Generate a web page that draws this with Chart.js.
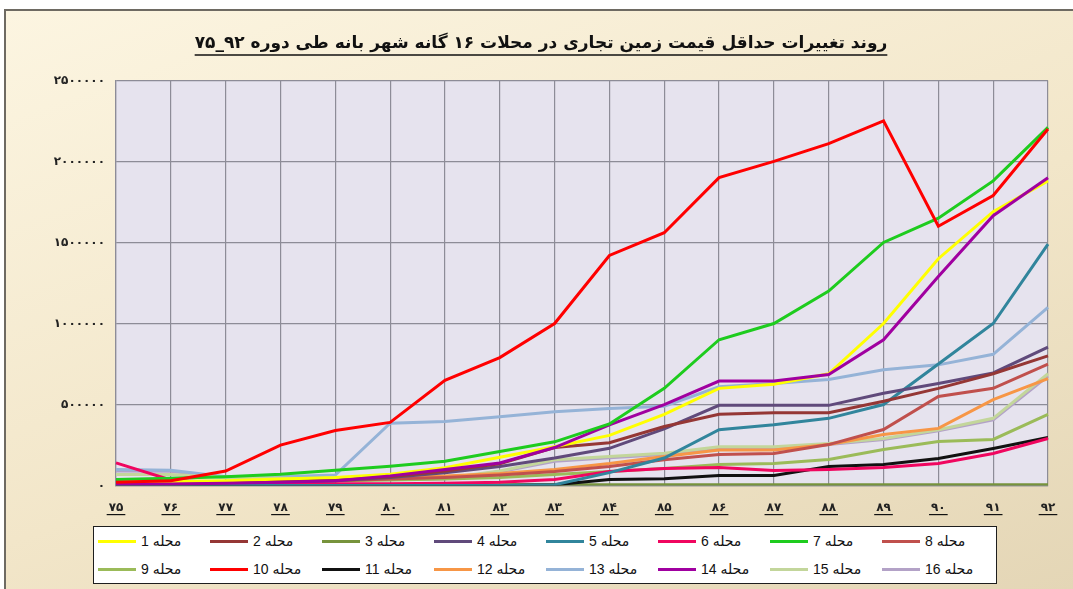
<!DOCTYPE html>
<html>
<head>
<meta charset="utf-8">
<script src="https://cdn.jsdelivr.net/npm/chart.js@4.4.1/dist/chart.umd.min.js"></script>
<style>
    body { margin: 0; background: #ffffff; }
    #quadro {
        position: absolute; left: 4px; top: 9px; width: 1069px; height: 580px;
        border-top: 2px solid #6e6a62; border-left: 2px solid #6e6a62;
        background: linear-gradient(160deg, #fcf5e1 0%, #f2e6c9 55%, #e4d6b6 100%);
    }
    #grafico { position: absolute; left: 0; top: 0; }
    #legenda {
        position: absolute; left: 93px; top: 526px; width: 904px; height: 58px;
        box-sizing: border-box; border: 1.5px solid #1e1e1e; background: #ffffff;
        display: grid; grid-template-columns: repeat(8, 112px); grid-template-rows: repeat(2, 1fr);
        padding-left: 4px;
        font-family: "Liberation Sans", "DejaVu Sans", sans-serif; font-size: 14px; color: #111;
    }
    .item { display: flex; align-items: center; }
    .linha { width: 38px; height: 3px; margin-right: 5px; }
</style>
</head>
<body>
<div id="quadro"></div>
<canvas id="grafico" width="1073" height="589" dir="rtl"></canvas>
<div id="legenda"></div>
<script>
const titulo = "روند تغییرات حداقل قیمت زمین تجاری در محلات ۱۶ گانه شهر بانه طی دوره ۹۲_۷۵";
const anos = ["۷۵", "۷۶", "۷۷", "۷۸", "۷۹", "۸۰", "۸۱", "۸۲", "۸۳", "۸۴", "۸۵", "۸۶", "۸۷", "۸۸", "۸۹", "۹۰", "۹۱", "۹۲"];
const rotulosY = ["۰", "۵۰۰۰۰۰", "۱۰۰۰۰۰۰", "۱۵۰۰۰۰۰", "۲۰۰۰۰۰۰", "۲۵۰۰۰۰۰"];
const nomes = ["محله 1", "محله 2", "محله 3", "محله 4", "محله 5", "محله 6", "محله 7", "محله 8",
    "محله 9", "محله 10", "محله 11", "محله 12", "محله 13", "محله 14", "محله 15", "محله 16"];

const mahalle1 = [20000, 25000, 30000, 40000, 50000, 70000, 110000, 175000, 240000, 310000, 440000, 600000, 625000, 690000, 1000000, 1400000, 1690000, 1880000];
const mahalle2 = [20000, 20000, 25000, 30000, 35000, 55000, 90000, 135000, 235000, 265000, 365000, 440000, 450000, 450000, 520000, 600000, 690000, 800000];
const mahalle3 = [5000, 5000, 5000, 5000, 5000, 5000, 5000, 5000, 5000, 5000, 5000, 5000, 5000, 5000, 5000, 5000, 5000, 5000];
const mahalle4 = [15000, 15000, 20000, 25000, 30000, 50000, 80000, 118000, 170000, 230000, 350000, 495000, 495000, 495000, 570000, 630000, 695000, 855000];
const mahalle5 = [0, 0, 0, 0, 0, 0, 0, 0, 5000, 80000, 170000, 345000, 375000, 415000, 500000, 750000, 1000000, 1490000];
const mahalle6 = [140000, 35000, 15000, 12000, 12000, 12000, 15000, 20000, 37000, 87000, 105000, 111000, 93000, 99000, 111000, 136000, 198000, 291000];
const mahalle7 = [37000, 45000, 55000, 70000, 95000, 120000, 150000, 210000, 270000, 380000, 600000, 900000, 1000000, 1200000, 1500000, 1650000, 1880000, 2210000];
const mahalle8 = [10000, 10000, 15000, 20000, 30000, 40000, 50000, 65000, 87000, 118000, 160000, 192000, 198000, 253000, 346000, 550000, 600000, 750000];
const mahalle9 = [20000, 20000, 25000, 25000, 30000, 35000, 40000, 50000, 68000, 87000, 105000, 130000, 136000, 161000, 223000, 272000, 285000, 440000];
const mahalle10 = [20000, 30000, 90000, 250000, 340000, 390000, 650000, 790000, 1000000, 1420000, 1560000, 1900000, 2000000, 2110000, 2250000, 1600000, 1790000, 2200000];
const mahalle11 = [0, 0, 0, 0, 0, 0, 0, 0, 5000, 37000, 43000, 62000, 62000, 118000, 130000, 167000, 229000, 297000];
const mahalle12 = [20000, 20000, 25000, 30000, 40000, 50000, 60000, 75000, 100000, 136000, 180000, 220000, 220000, 253000, 315000, 353000, 530000, 660000];
const mahalle13 = [100000, 95000, 55000, 55000, 65000, 385000, 395000, 425000, 455000, 475000, 490000, 610000, 630000, 655000, 715000, 745000, 810000, 1100000];
const mahalle14 = [10000, 10000, 15000, 20000, 30000, 60000, 100000, 140000, 235000, 375000, 500000, 645000, 645000, 685000, 900000, 1290000, 1665000, 1900000];
const mahalle15 = [68000, 68000, 50000, 45000, 40000, 40000, 45000, 90000, 160000, 180000, 200000, 240000, 240000, 260000, 290000, 345000, 415000, 690000];
const mahalle16 = [90000, 88000, 48000, 43000, 38000, 38000, 43000, 85000, 150000, 172000, 192000, 232000, 234000, 254000, 284000, 338000, 405000, 675000];

const series = [mahalle1, mahalle2, mahalle3, mahalle4, mahalle5, mahalle6, mahalle7, mahalle8,
    mahalle9, mahalle10, mahalle11, mahalle12, mahalle13, mahalle14, mahalle15, mahalle16];
const cores = ["#FFFF00", "#953735", "#77933C", "#604A7B", "#31859C", "#F0065F", "#1ECC1E", "#C0504D",
    "#9BBB59", "#FF0000", "#111111", "#F79646", "#95B3D7", "#A000A0", "#C3D69B", "#B3A2C7"];
const ordens = [2, 3, 4, 3, 3, 3, 1, 3, 3, 0, 3, 3, 4, 1, 3, 5];

const fonteArabe = "'DejaVu Sans', sans-serif";

const fundoPlugin = {
    id: "fundo",
    beforeDraw(chart) {
        const { ctx, chartArea } = chart;
        ctx.save();
        ctx.fillStyle = "#e6e3ee";
        ctx.fillRect(chartArea.left, chartArea.top, chartArea.right - chartArea.left, chartArea.bottom - chartArea.top);
        ctx.restore();
    },
    afterDraw(chart) {
        const ctx = chart.ctx;
        ctx.save();
        ctx.strokeStyle = "#111";
        ctx.lineWidth = 1.5;
        // sublinhado do titulo
        const t = chart.titleBlock;
        ctx.font = "bold 17px " + fonteArabe;
        const w = ctx.measureText(titulo).width;
        const cx = (t.left + t.right) / 2;
        const yT = t.top + 33 + 22;
        ctx.beginPath();
        ctx.moveTo(cx - w / 2, yT);
        ctx.lineTo(cx + w / 2, yT);
        ctx.stroke();
        // sublinhado dos anos
        const x = chart.scales.x;
        ctx.font = "bold 12px " + fonteArabe;
        const yX = chart.chartArea.bottom + 29;
        ctx.lineWidth = 1.2;
        anos.forEach((ano, i) => {
            const px = x.getPixelForTick(i);
            const lw = ctx.measureText(ano).width + 4;
            ctx.beginPath();
            ctx.moveTo(px - lw / 2, yX);
            ctx.lineTo(px + lw / 2, yX);
            ctx.stroke();
        });
        ctx.restore();
    }
};

const ctx = document.getElementById("grafico").getContext("2d");

const grafico = new Chart(ctx, {
    type: "line",
    data: {
        labels: anos,
        datasets: series.map((valores, i) => ({
            label: nomes[i],
            data: valores,
            borderColor: cores[i],
            backgroundColor: cores[i],
            borderWidth: 3,
            pointRadius: 0,
            tension: 0,
            order: ordens[i]
        }))
    },
    options: {
        responsive: false,
        animation: false,
        layout: {
            padding: { left: 34, right: 25, top: 0, bottom: 59 }
        },
        scales: {
            x: {
                grid: { color: "#8d8c97", lineWidth: 1.2, drawTicks: false },
                border: { color: "#8d8c97", width: 1.2 },
                ticks: {
                    padding: 15,
                    color: "#222",
                    maxRotation: 0,
                    autoSkip: false,
                    font: { family: fonteArabe, size: 12, weight: "bold" }
                }
            },
            y: {
                min: 0,
                max: 2500000,
                afterFit(scale) { scale.width = 82; },
                grid: { color: "#8d8c97", lineWidth: 1.2, drawTicks: false },
                border: { color: "#8d8c97", width: 1.2 },
                ticks: {
                    stepSize: 500000,
                    padding: 11,
                    color: "#222",
                    font: { family: fonteArabe, size: 12, weight: "bold" },
                    callback: (valor, indice) => rotulosY[indice]
                }
            }
        },
        plugins: {
            legend: { display: false },
            tooltip: { enabled: false },
            title: {
                display: true,
                text: titulo,
                color: "#111",
                padding: { top: 33, bottom: 27 },
                font: { family: fonteArabe, size: 17, weight: "bold" }
            }
        }
    },
    plugins: [fundoPlugin]
});

// legenda em html, montada a partir dos datasets
const legenda = document.getElementById("legenda");
grafico.data.datasets.forEach((ds) => {
    const item = document.createElement("div");
    item.className = "item";
    const linha = document.createElement("span");
    linha.className = "linha";
    linha.style.background = ds.borderColor;
    const texto = document.createElement("span");
    texto.dir = "rtl";
    texto.textContent = ds.label;
    item.appendChild(linha);
    item.appendChild(texto);
    legenda.appendChild(item);
});
</script>
</body>
</html>
